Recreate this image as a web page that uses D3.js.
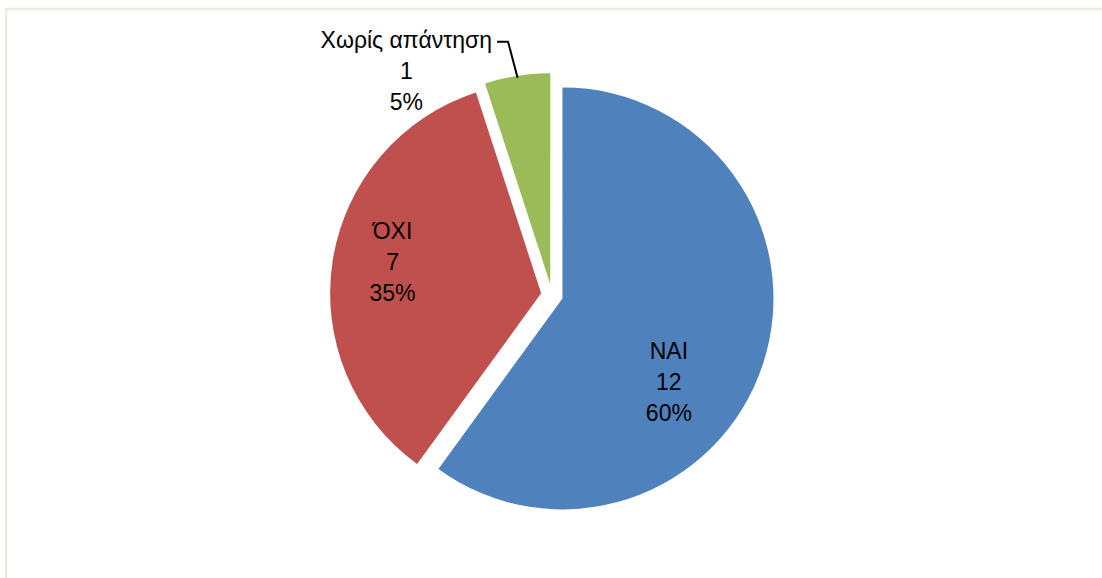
<!DOCTYPE html>
<html>
<head>
<meta charset="utf-8">
<script src="https://cdn.jsdelivr.net/npm/d3@7"></script>
<style>
  html, body { margin: 0; padding: 0; background: #ffffff; }
  svg { display: block; }
  text { font-family: "Liberation Sans", "DejaVu Sans", sans-serif; fill: #000; }
</style>
</head>
<body>
<svg id="chart" width="1102" height="578"></svg>
<script>
// Survey answers
const categories = ["ΝΑΙ", "ΌΧΙ", "Χωρίς απάντηση"];
const counts = [12, 7, 1];
const percentLabels = ["60%", "35%", "5%"];
const colors = ["#4F81BD", "#C0504D", "#9BBB59"];

// Label placement: angle (deg, clockwise from 12 o'clock) and distance as a fraction of the radius
const labelAngles = [128, 282, 326];
const labelRadius = [0.64, 0.72, 1.22];

const width = 1102, height = 578;
const svg = d3.select("#chart");

// Chart area frame
svg.append("rect")
  .attr("x", 6).attr("y", 9)
  .attr("width", width + 20).attr("height", height + 20)
  .attr("fill", "none")
  .attr("stroke", "#EEECE1")
  .attr("stroke-width", 2.5);

const cx = 552, cy = 295, r = 211, explode = 11;

const pie = d3.pie().sort(null).value(d => d)(counts);
const arc = d3.arc().innerRadius(0).outerRadius(r);

const g = svg.append("g").attr("transform", `translate(${cx},${cy})`);

const slices = g.selectAll("g.slice").data(pie).enter().append("g")
  .attr("class", "slice")
  .attr("transform", d => {
    const mid = (d.startAngle + d.endAngle) / 2;
    return `translate(${explode * Math.sin(mid)},${-explode * Math.cos(mid)})`;
  });

slices.append("path")
  .attr("d", arc)
  .attr("fill", (d, i) => colors[i]);

// Data labels
const fontSize = 23, lineH = 31;
slices.each(function (d, i) {
  const a = labelAngles[i] * Math.PI / 180;
  const lx = r * labelRadius[i] * Math.sin(a);
  const ly = -r * labelRadius[i] * Math.cos(a);
  const t = d3.select(this).append("text")
    .attr("text-anchor", "middle")
    .attr("font-size", fontSize);
  const lines = [categories[i], String(counts[i]), percentLabels[i]];
  lines.forEach((s, k) => {
    t.append("tspan")
      .attr("x", lx)
      .attr("y", ly + (k - 1) * lineH)
      .attr("dy", "0.35em")
      .text(s);
  });
});

// Leader line for the small outside label
slices.filter((d, i) => labelRadius[i] > 1).each(function (d) {
  const node = d3.select(this).select("text").select("tspan").node();
  const bb = node.getBBox();
  const mid = (d.startAngle + d.endAngle) / 2;
  const ex = (r - 2) * Math.sin(mid), ey = -(r - 2) * Math.cos(mid);
  const sx = bb.x + bb.width + 5, sy = bb.y + bb.height / 2 + 2;
  d3.select(this).append("path")
    .attr("d", `M${sx},${sy}H${sx + 11}L${ex},${ey}`)
    .attr("fill", "none")
    .attr("stroke", "#000")
    .attr("stroke-width", 2);
});
</script>
</body>
</html>
